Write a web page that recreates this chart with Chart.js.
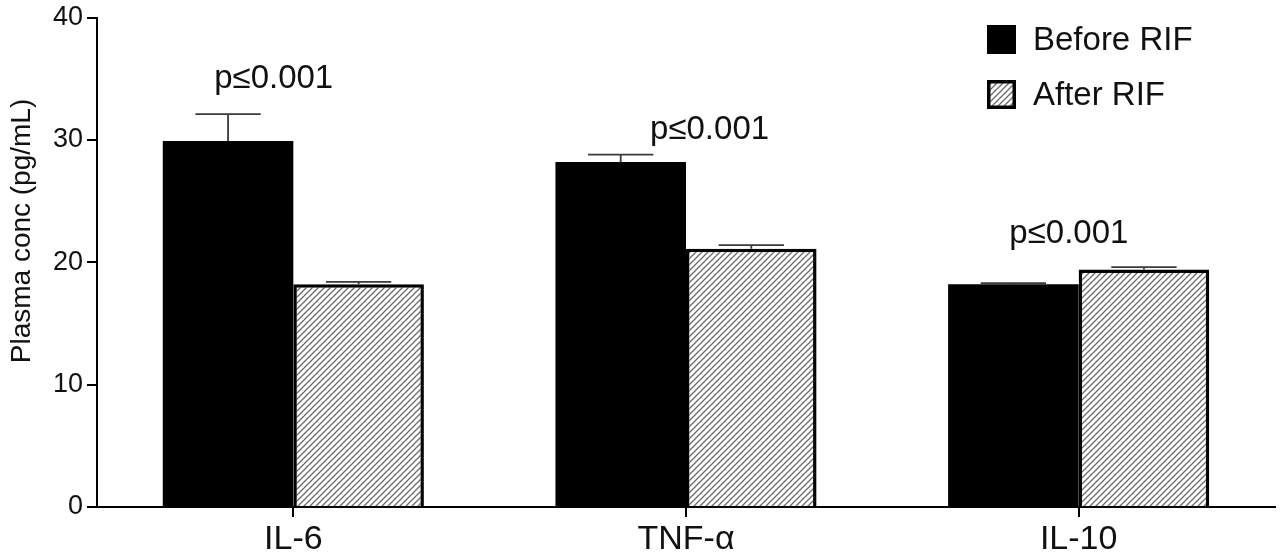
<!DOCTYPE html>
<html>
<head>
<meta charset="utf-8">
<script src="https://cdn.jsdelivr.net/npm/chart.js@4/dist/chart.umd.min.js"></script>
<style>
  html, body { margin: 0; padding: 0; background: #fff; }
  #wrap { width: 1280px; height: 557px; }
</style>
</head>
<body>
<div id="wrap"><canvas id="c" width="1280" height="557"></canvas></div>
<script>
const categories = ['IL-6', 'TNF-α', 'IL-10'];
const seriesNames = ['Before RIF', 'After RIF'];
const beforeValues = [29.9, 28.2, 18.2];
const afterValues = [18.2, 21.1, 19.4];
const beforeErrors = [2.2, 0.6, 0.1];
const afterErrors = [0.2, 0.3, 0.2];
const pLabels = ['p≤0.001', 'p≤0.001', 'p≤0.001'];
const pLabelValues = [35.0, 30.8, 22.3];
const pLabelOffsets = [-0.05, 0.06, -0.025];
const yTicks = [0, 10, 20, 30, 40];
const yTitle = 'Plasma conc (pg/mL)';

const FONT = "'Liberation Sans', Arial, Helvetica, sans-serif";

function makeHatch() {
  const s = 6;
  const pc = document.createElement('canvas');
  pc.width = s; pc.height = s;
  const g = pc.getContext('2d');
  g.fillStyle = '#fff';
  g.fillRect(0, 0, s, s);
  g.strokeStyle = '#6a6a6a';
  g.lineWidth = 1.3;
  g.beginPath();
  g.moveTo(-1, s + 1); g.lineTo(s + 1, -1);
  g.moveTo(-1, 1); g.lineTo(1, -1);
  g.moveTo(s - 1, s + 1); g.lineTo(s + 1, s - 1);
  g.stroke();
  return g.createPattern(pc, 'repeat');
}

const ctx = document.getElementById('c').getContext('2d');
const hatch = makeHatch();

const extrasPlugin = {
  id: 'extras',
  afterDatasetsDraw(chart) {
    const c = chart.ctx;
    const ys = chart.scales.y;
    const xs = chart.scales.x;
    const errs = [beforeErrors, afterErrors];
    c.save();
    c.strokeStyle = '#3a3a3a';
    c.lineWidth = 1.8;
    chart.data.datasets.forEach((ds, di) => {
      const meta = chart.getDatasetMeta(di);
      meta.data.forEach((bar, i) => {
        const v = ds.data[i];
        const top = ys.getPixelForValue(v + errs[di][i]);
        const base = ys.getPixelForValue(v);
        const half = bar.width / 4;
        c.beginPath();
        c.moveTo(bar.x, base);
        c.lineTo(bar.x, top);
        c.moveTo(bar.x - half, top);
        c.lineTo(bar.x + half, top);
        c.stroke();
      });
    });
    // p labels
    c.fillStyle = '#111';
    c.font = '33px ' + FONT;
    c.textAlign = 'center';
    c.textBaseline = 'middle';
    const cw = (xs.right - xs.left) / categories.length;
    pLabels.forEach((t, i) => {
      const x = xs.getPixelForValue(i) + pLabelOffsets[i] * cw;
      const y = ys.getPixelForValue(pLabelValues[i]);
      c.fillText(t, x, y);
    });
    // legend
    const lx = 987, ly = [25, 80], sz = 29;
    c.textAlign = 'left';
    c.font = '33px ' + FONT;
    seriesNames.forEach((n, k) => {
      if (k === 0) {
        c.fillStyle = '#000';
        c.fillRect(lx, ly[k], sz, sz);
      } else {
        c.fillStyle = hatch;
        c.fillRect(lx, ly[k], sz, sz);
        c.strokeStyle = '#000';
        c.lineWidth = 3.5;
        c.strokeRect(lx + 1.75, ly[k] + 1.75, sz - 3.5, sz - 3.5);
      }
      c.fillStyle = '#111';
      c.fillText(n, lx + 46, ly[k] + sz / 2 + 1);
    });
    // y axis title
    c.save();
    c.translate(22, 231);
    c.rotate(-Math.PI / 2);
    c.textAlign = 'center';
    c.font = '28px ' + FONT;
    c.fillText(yTitle, 0, 0);
    c.restore();
    c.restore();
  }
};

new Chart(ctx, {
  type: 'bar',
  data: {
    labels: categories,
    datasets: [
      {
        label: seriesNames[0],
        data: beforeValues,
        backgroundColor: '#000',
        borderWidth: 0,
        barPercentage: 1.0,
        categoryPercentage: 0.665
      },
      {
        label: seriesNames[1],
        data: afterValues,
        backgroundColor: hatch,
        borderColor: '#000',
        borderWidth: 3.5,
        borderSkipped: 'bottom',
        barPercentage: 1.0,
        categoryPercentage: 0.665
      }
    ]
  },
  options: {
    responsive: false,
    animation: false,
    devicePixelRatio: 1,
    layout: { padding: { top: 16, right: 5, left: 0, bottom: 0 } },
    plugins: {
      legend: { display: false },
      tooltip: { enabled: false }
    },
    scales: {
      x: {
        grid: { display: true, drawOnChartArea: false, offset: false, tickLength: 10, color: '#000', lineWidth: 2 },
        border: { display: true, color: '#000', width: 2 },
        ticks: { color: '#111', font: { family: FONT, size: 34, lineHeight: 1 }, padding: 6 },
        afterFit(s) { s.height = 50; }
      },
      y: {
        min: 0, max: 40,
        afterBuildTicks(s) { s.ticks = yTicks.map(v => ({ value: v })); },
        grid: { display: true, drawOnChartArea: false, tickLength: 10, color: '#000', lineWidth: 2 },
        border: { display: true, color: '#000', width: 2 },
        ticks: { color: '#111', font: { family: FONT, size: 27, lineHeight: 1 }, padding: 4 },
        afterFit(s) { s.width = 97; }
      }
    }
  },
  plugins: [extrasPlugin]
});
</script>
</body>
</html>
